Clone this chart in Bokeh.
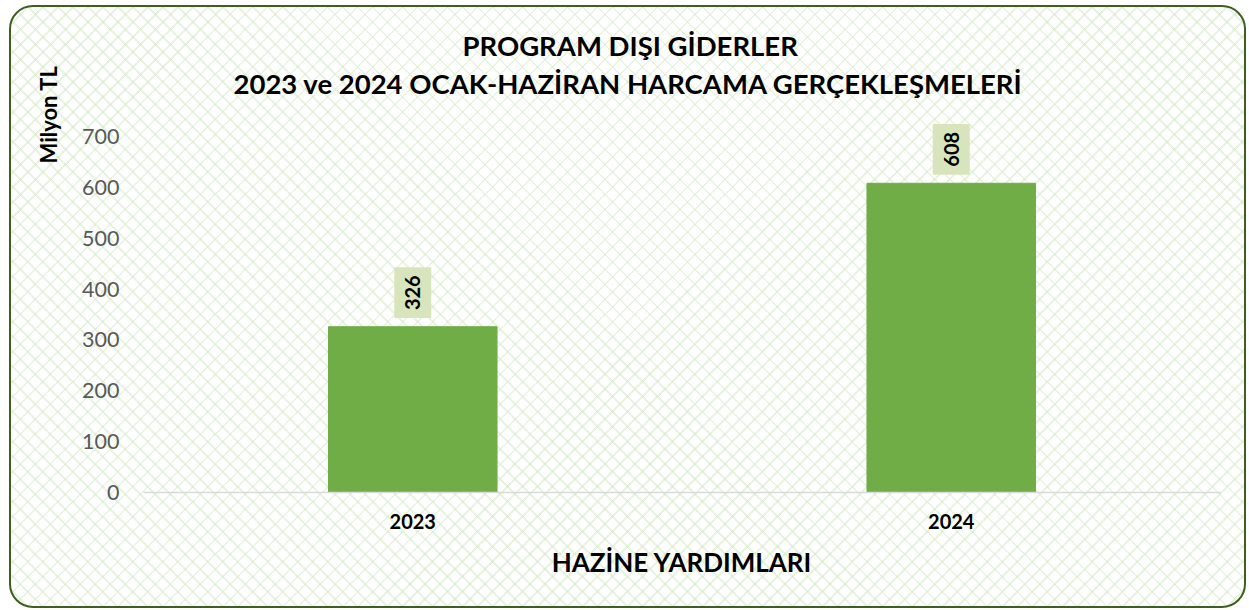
from math import pi
from bokeh.plotting import figure
from bokeh.models import ColumnDataSource, FactorRange, Range1d, Title, FixedTicker
from bokeh.core.properties import value
from bokeh.embed import file_html
from bokeh.resources import INLINE

years = ["2023", "2024"]
values = [326, 608]
labels = ["326", "608"]
y_ticks = [0, 100, 200, 300, 400, 500, 600, 700]

title_1 = "PROGRAM DIŞI GİDERLER"
title_2 = "2023 ve 2024 OCAK-HAZİRAN HARCAMA GERÇEKLEŞMELERİ"
y_title = "Milyon TL"
x_title = "HAZİNE YARDIMLARI"

FONT = "Lato"
W, H = 1241, 602

src = ColumnDataSource(dict(year=years, value=values, label=labels))

css = """
:host { position: relative; }
:host::before {
  content: ""; position: absolute; left: 9px; top: 5px; right: -5px; bottom: -6px;
  border: 2px solid #3f5f22; border-radius: 24px; z-index: -1;
  background-color: #ffffff;
  background-image:
    repeating-linear-gradient(45deg, rgba(205,230,192,0.45) 0px, rgba(205,230,192,0.45) 1.8px, transparent 1.8px, transparent 10.6px),
    repeating-linear-gradient(-45deg, rgba(205,230,192,0.45) 0px, rgba(205,230,192,0.45) 1.8px, transparent 1.8px, transparent 10.6px);
}
"""

p = figure(width=W, height=H, x_range=FactorRange(*years, range_padding=0),
           y_range=Range1d(0, 770.8), output_backend="svg", toolbar_location=None,
           min_border_left=143, min_border_right=W - 1220, min_border_top=100,
           min_border_bottom=110, stylesheets=[css])
p.background_fill_color = None
p.border_fill_color = None
p.outline_line_color = None

p.vbar(x="year", top="value", width=0.313, source=src, color="#70ad47")

p.xgrid.visible = False
p.ygrid.visible = False

p.yaxis.ticker = FixedTicker(ticks=y_ticks)
p.yaxis.axis_line_color = None
p.yaxis.major_tick_line_color = None
p.yaxis.minor_tick_line_color = None
p.yaxis.major_label_text_font = FONT
p.yaxis.major_label_text_font_size = "21.5px"
p.yaxis.major_label_text_color = "#595959"
p.yaxis.major_label_standoff = 18

p.xaxis.axis_line_color = "#d9d9d9"
p.xaxis.axis_line_width = 1.5
p.xaxis.major_tick_line_color = None
p.xaxis.minor_tick_line_color = None
p.xaxis.major_label_text_font = FONT
p.xaxis.major_label_text_font_size = "20px"
p.xaxis.major_label_text_font_style = "bold"
p.xaxis.major_label_text_color = "black"
p.xaxis.major_label_standoff = 15
p.xaxis.axis_label = x_title
p.xaxis.axis_label_text_font = FONT
p.xaxis.axis_label_text_font_size = "26px"
p.xaxis.axis_label_text_font_style = "bold"
p.xaxis.axis_label_text_color = "black"
p.xaxis.axis_label_standoff = 14

p.text(x="year", y="value", text="label", source=src, angle=pi / 2,
       text_align="center", text_baseline="middle", y_offset=-34,
       text_font=value(FONT), text_font_size="20px", text_font_style="bold",
       text_color="black", background_fill_color="#d8e4bc",
       padding=[8, 11])

t2 = Title(text=title_2, align="left", offset=90, text_font=FONT,
           text_font_size="27.5px", text_font_style="bold", text_color="black",
           standoff=1)
t1 = Title(text=title_1, align="left", offset=319, text_font=FONT,
           text_font_size="27.5px", text_font_style="bold", text_color="black",
           standoff=6)
p.add_layout(t2, "above")
p.add_layout(t1, "above")

ty = Title(text=y_title, align="right", offset=-35, text_font=FONT,
           text_font_size="22px", text_font_style="bold", text_color="black",
           standoff=36)
p.add_layout(ty, "left")

open("out.html", "w").write(file_html(p, INLINE))
